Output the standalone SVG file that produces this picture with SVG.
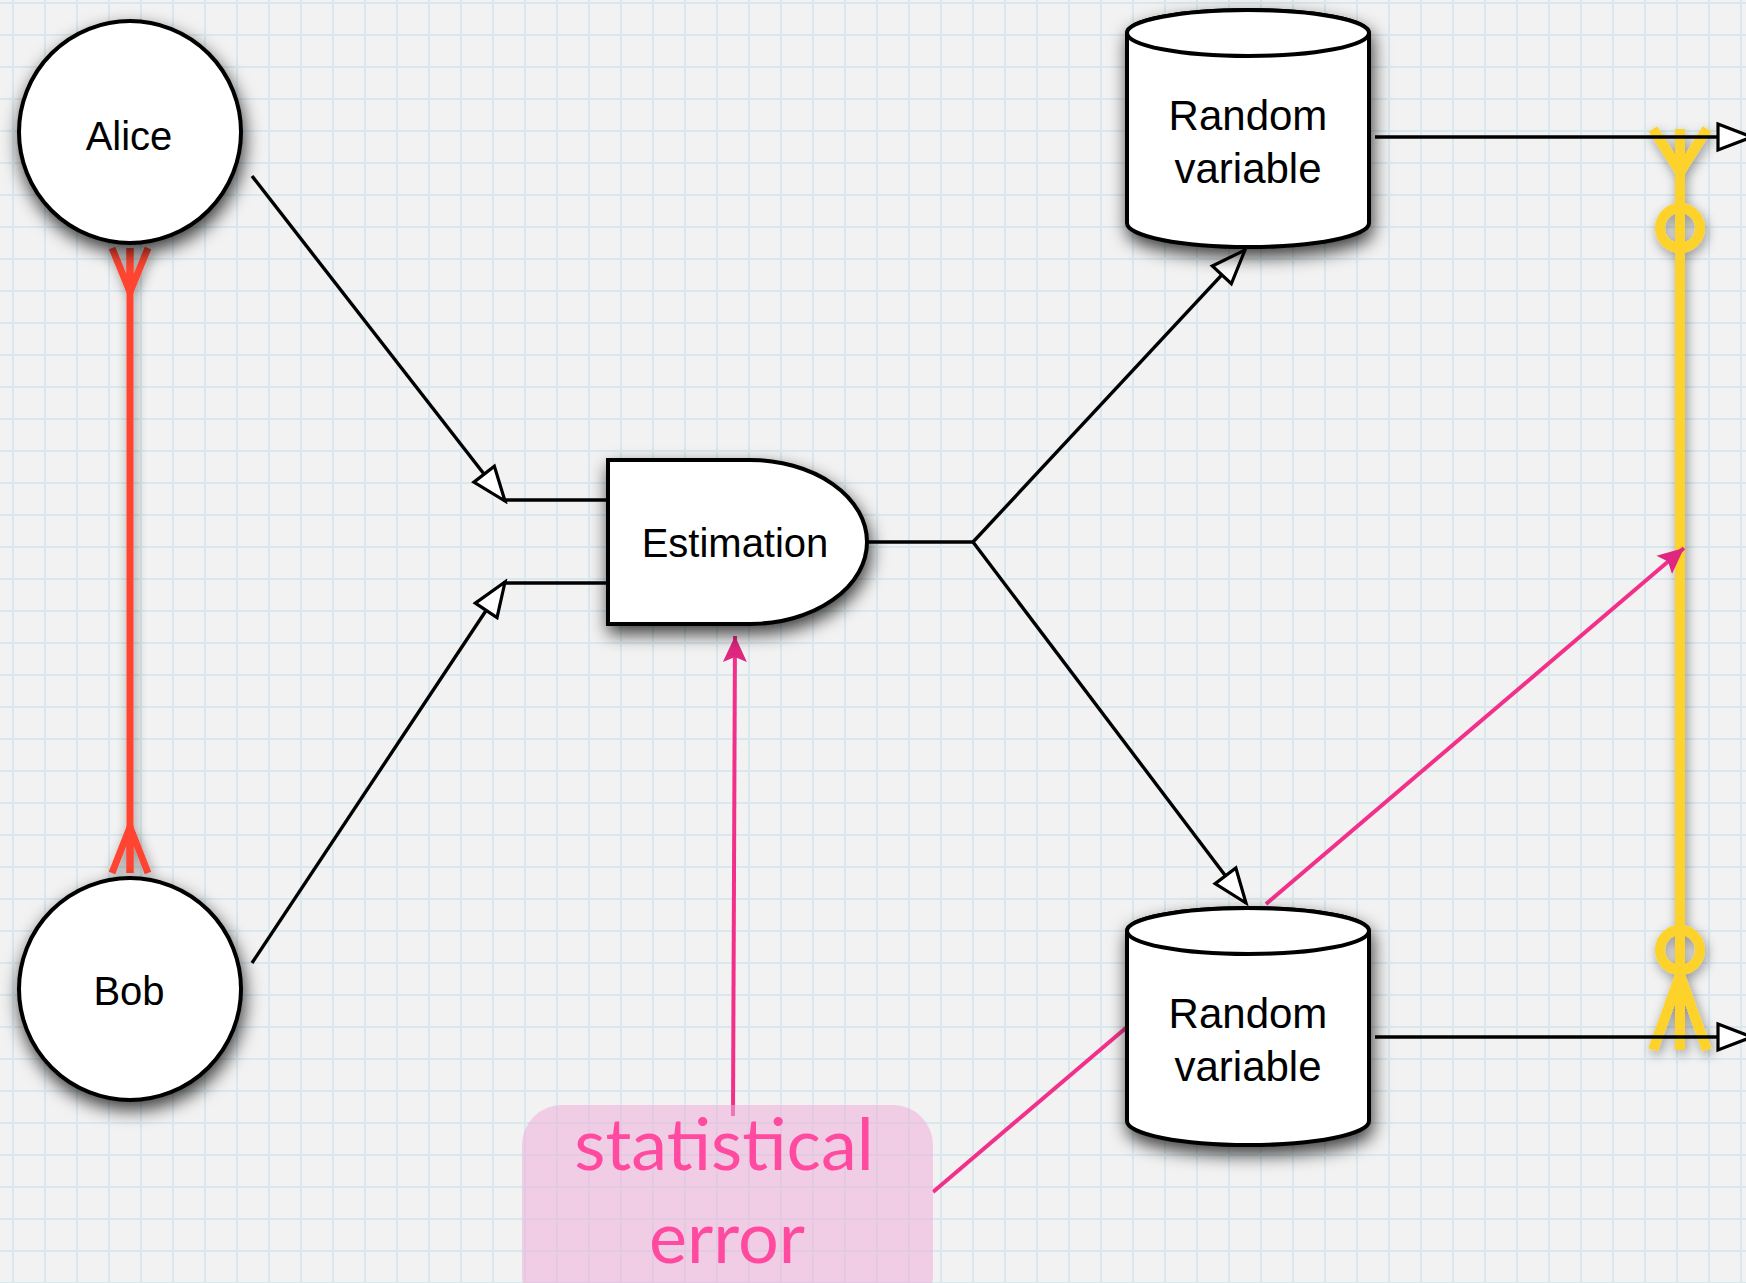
<svg xmlns="http://www.w3.org/2000/svg" width="1746" height="1283" viewBox="0 0 1746 1283">
<style>
.node{fill:#fff;stroke:#000;stroke-width:4}
.lbl{font-family:"Liberation Sans",Arial,sans-serif;font-size:40px;fill:#000;text-anchor:middle}
.cl{font-size:42px}
.edge{fill:none;stroke:#000;stroke-width:3.4}
.pink{fill:none;stroke:#f2308a;stroke-width:4}
.note{font-family:Lato,"Open Sans",sans-serif;font-size:72px;fill:#ff4aa0;text-anchor:middle}
</style>
<defs>
<pattern id="grid" x="12" y="2" width="32" height="32" patternUnits="userSpaceOnUse">
<path d="M0 1H32M1 0V32" stroke="#d8e8ee" stroke-width="2"/>
</pattern>
<filter id="sh" x="-30%" y="-30%" width="160%" height="170%">
<feDropShadow dx="2" dy="8" stdDeviation="9" flood-color="#000" flood-opacity="0.75"/>
</filter>
<filter id="lsh" x="-200%" y="-10%" width="500%" height="120%">
<feDropShadow dx="2" dy="4" stdDeviation="6" flood-color="#000" flood-opacity="0.4"/>
</filter>
<marker id="open" markerUnits="userSpaceOnUse" markerWidth="42" markerHeight="34" viewBox="-4 -4 42 34" refX="34" refY="13" orient="auto">
<path d="M0,0 L34,13 L0,26 Z" fill="#fff" stroke="#000" stroke-width="3.2" stroke-linejoin="miter"/>
</marker>
<marker id="pk" markerUnits="userSpaceOnUse" markerWidth="30" markerHeight="30" viewBox="0 0 30 30" refX="26" refY="13" orient="auto">
<path d="M0,1 L26,13 L0,25 L5,13 Z" fill="#e02680"/>
</marker>
</defs>
<rect width="1746" height="1283" fill="#f2f2f2"/>
<rect width="1746" height="1283" fill="url(#grid)"/>

<g id="connectors">
<g filter="url(#lsh)">
<path d="M130,248V873" fill="none" stroke="#ff4530" stroke-width="7"/>
<path d="M112,248L130,292L148,248M130,248V292M112,873L130,827L148,873M130,873V827" fill="none" stroke="#ff4530" stroke-width="7"/>
</g>
<g filter="url(#lsh)">
<path d="M1680,129V1050" fill="none" stroke="#fdd22b" stroke-width="10"/>
<path d="M1653,129L1680,172L1707,129M1653,1050L1680,975L1707,1050" fill="none" stroke="#fdd22b" stroke-width="10"/>
<circle cx="1680" cy="228" r="20" fill="none" stroke="#fdd22b" stroke-width="10"/>
<circle cx="1680" cy="950" r="20" fill="none" stroke="#fdd22b" stroke-width="10"/>
</g>
<path class="edge" d="M252,176L505,501" marker-end="url(#open)"/>
<path class="edge" d="M505,500H608"/>
<path class="edge" d="M252,963L505,582" marker-end="url(#open)"/>
<path class="edge" d="M505,583H608"/>
<path class="edge" d="M867,542H973"/>
<path class="edge" d="M973,542L1245,250" marker-end="url(#open)"/>
<path class="edge" d="M973,542L1246,903" marker-end="url(#open)"/>
<path class="edge" d="M1375,137H1752" marker-end="url(#open)"/>
<path class="edge" d="M1375,1037H1752" marker-end="url(#open)"/>
<path class="pink" d="M733,1116L735,636" marker-end="url(#pk)"/>
<path class="pink" d="M933,1192L1127,1027"/>
<path class="pink" d="M1266,904L1684,548" marker-end="url(#pk)"/>
</g>

<g id="alice">
<circle class="node" cx="130" cy="132" r="111" filter="url(#sh)"/>
<text class="lbl" x="129" y="150">Alice</text>
</g>
<g id="bob">
<circle class="node" cx="130" cy="989" r="111" filter="url(#sh)"/>
<text class="lbl" x="129" y="1005">Bob</text>
</g>
<g id="estimation">
<path class="node" d="M608,460H750A117,82 0 0 1 750,624H608Z" filter="url(#sh)"/>
<text class="lbl" x="735" y="557">Estimation</text>
</g>
<g id="rv1">
<g filter="url(#sh)">
<path class="node" d="M1127,33V223A121,24 0 0 0 1369,223V33A121,23 0 0 0 1127,33Z"/>
<ellipse class="node" cx="1248" cy="33" rx="121" ry="23"/>
</g>
<text class="lbl cl" x="1248" y="130">Random</text>
<text class="lbl cl" x="1248" y="183">variable</text>
</g>
<g id="rv2">
<g filter="url(#sh)">
<path class="node" d="M1127,931V1121A121,24 0 0 0 1369,1121V931A121,23 0 0 0 1127,931Z"/>
<ellipse class="node" cx="1248" cy="931" rx="121" ry="23"/>
</g>
<text class="lbl cl" x="1248" y="1028">Random</text>
<text class="lbl cl" x="1248" y="1081">variable</text>
</g>
<g id="statistical-error">
<rect x="522" y="1105" width="411" height="210" rx="40" fill="#eeaed8" fill-opacity="0.55"/>
<text class="note" x="724" y="1170">statistical</text>
<text class="note" x="727" y="1263">error</text>
</g>
</svg>
